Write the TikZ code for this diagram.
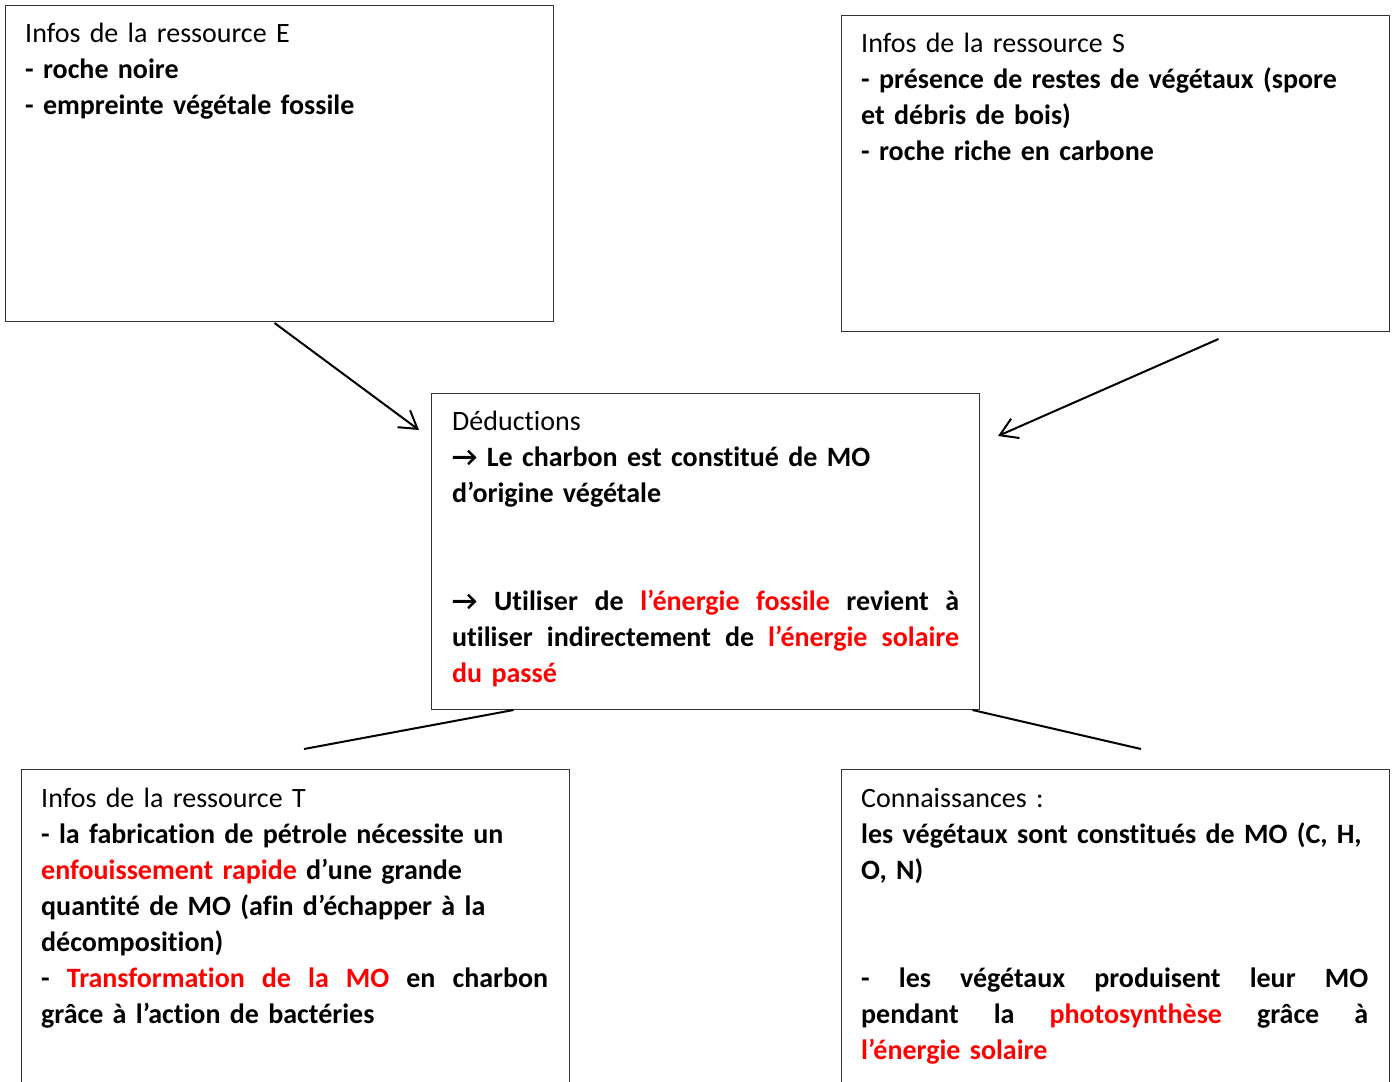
\documentclass[tikz,border=0pt]{standalone}
\usepackage{fontspec}
\setmainfont{Carlito}[Ligatures={NoCommon}]
\usetikzlibrary{arrows.meta}

\tikzset{
  infobox/.style={draw=black!80, line width=1pt, anchor=north west, inner sep=0pt,
    minimum width=548pt, minimum height=316pt},
  infotext/.style={anchor=north west, inner sep=0pt, text width=507pt, align=left,
    font=\fontsize{28}{36}\selectfont},
  link/.style={line width=2pt},
  fleche/.style={link, -{Straight Barb[length=17pt,width=21pt,line width=2pt]}},
}
\newcommand{\rouge}[1]{\textcolor{red}{#1}}
\newcommand{\etire}[1]{\leavevmode\hbox to 507pt{\bfseries\spaceskip=0.226em plus 1fil\relax #1}}

\begin{document}
\begin{tikzpicture}[x=1pt,y=-1pt]
\useasboundingbox (0,0) rectangle (1393,1082);
%% boxes
\node (boxE) at (5,5) [infobox] {};
\node (boxS) at (841,15) [infobox] {};
\node (boxD) at (431,393) [infobox] {};
\node (boxT) at (21,769) [infobox, minimum height=340pt] {};
\node (boxC) at (841,769) [infobox, minimum height=340pt] {};
%% texts
\node (txtE) at (25,17) [infotext] {\strut Infos de la ressource E\\
  \textbf{- roche noire}\\
  \textbf{- empreinte végétale fossile}};
\node (txtS) at (861,27) [infotext] {\strut Infos de la ressource S\\
  \textbf{- présence de restes de végétaux (spore}\\
  \textbf{et débris de bois)}\\
  \textbf{- roche riche en carbone}};
\node (txtD) at (452,405) [infotext] {\strut Déductions\\
  \textbf{→ Le charbon est constitué de MO}\\
  \textbf{d’origine végétale}\\[72pt]
  \etire{→ Utiliser de \rouge{l’énergie fossile} revient à}\\
  \etire{utiliser indirectement de \rouge{l’énergie solaire}}\\
  \textbf{\rouge{du passé}}};
\node (txtT) at (41,782) [infotext] {\strut Infos de la ressource T\\
  \textbf{- la fabrication de pétrole nécessite un}\\
  \textbf{\rouge{enfouissement rapide} d’une grande}\\
  \textbf{quantité de MO (afin d’échapper à la}\\
  \textbf{décomposition)}\\
  \etire{- \rouge{Transformation de la MO} en charbon}\\
  \textbf{grâce à l’action de bactéries}};
\node (txtC) at (861,782) [infotext] {\strut Connaissances :\\
  \textbf{les végétaux sont constitués de MO (C, H,}\\
  \textbf{O, N)}\\[72pt]
  \etire{- les végétaux produisent leur MO}\\
  \etire{pendant la \rouge{photosynthèse} grâce à}\\
  \textbf{\rouge{l’énergie solaire}}};
%% connectors
\coordinate (tipE) at (419,430);
\coordinate (tipS) at (998,436);
\coordinate (footT) at (304,749);
\coordinate (footC) at (1141,749);
\draw [fleche] ([xshift=-5pt,yshift=-1pt]boxE.south) -- (tipE);
\draw [fleche] ([xshift=103pt,yshift=-7pt]boxS.south) -- (tipS);
\draw [link] ([xshift=-192pt]boxD.south) -- (footT);
\draw [link] ([xshift=267pt]boxD.south) -- (footC);
%
\end{tikzpicture}
\end{document}
